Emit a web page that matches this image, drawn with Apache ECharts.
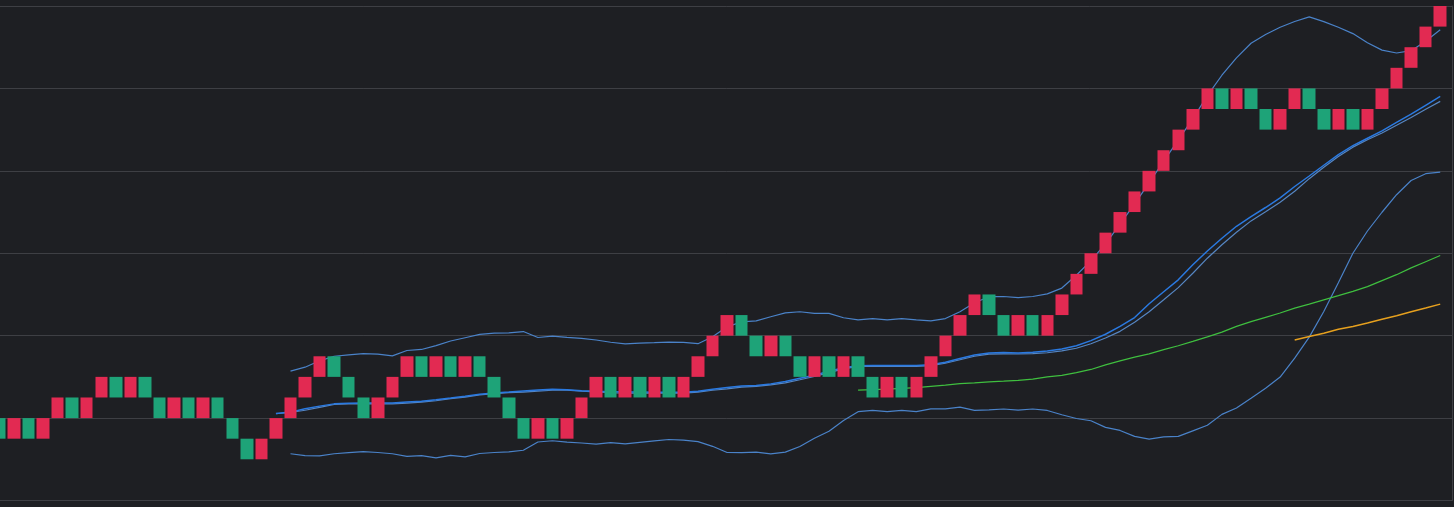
<!DOCTYPE html>
<html>
<head>
<meta charset="utf-8">
<script src="https://cdn.jsdelivr.net/npm/echarts@6/dist/echarts.min.js"></script>
<style>
html,body{margin:0;padding:0;background:#1e1f23;}
#c{width:1454px;height:507px;}
</style>
</head>
<body>
<div id="c"></div>
<script>
// Renko bricks: opening level of the first brick, then close level of every brick
const firstOpen = 0;
const brickClose = [
  -1,0,-1,0,1,0,1,2,1,2,1,0,1,0,1,0,-1,-2,-1,0,1,
  2,3,2,1,0,1,2,3,2,3,2,3,2,1,0,-1,0,-1,0,1,
  2,1,2,1,2,1,2,3,4,5,4,3,4,3,2,3,2,3,2,1,
  2,1,2,3,4,5,6,5,4,5,4,5,6,7,8,9,10,11,12,13,
  14,15,16,15,16,15,14,15,16,15,14,15,14,15,16,17,18,19,20
];

// Bollinger upper / lower bands (start at brick 20)
const bandStart = 20;
const upperBand = [
  2.28,2.47,2.78,3.00,3.07,3.13,3.10,3.02,3.28,3.33,
  3.52,3.74,3.90,4.06,4.12,4.14,4.20,3.91,3.98,3.92,
  3.87,3.79,3.68,3.60,3.64,3.66,3.69,3.67,3.61,3.95,
  4.43,4.67,4.72,4.92,5.11,5.16,5.08,5.08,4.87,4.77,
  4.83,4.77,4.83,4.77,4.72,4.83,5.16,5.60,5.89,5.90,
  5.85,5.90,6.03,6.31,6.93,7.64,8.46,9.41,10.40,11.42,
  12.47,13.49,14.53,15.65,16.64,17.48,18.19,18.62,18.97,19.25,
  19.47,19.24,18.97,18.66,18.22,17.86,17.72,17.83,18.29,18.85
];
const lowerBand = [
  -1.73,-1.82,-1.83,-1.73,-1.68,-1.63,-1.67,-1.73,-1.86,-1.82,
  -1.93,-1.81,-1.88,-1.72,-1.67,-1.64,-1.56,-1.16,-1.10,-1.17,
  -1.21,-1.26,-1.19,-1.25,-1.18,-1.11,-1.04,-1.07,-1.14,-1.37,
  -1.67,-1.68,-1.65,-1.74,-1.65,-1.38,-0.98,-0.64,-0.12,0.31,
  0.37,0.31,0.37,0.31,0.45,0.45,0.53,0.37,0.40,0.44,
  0.39,0.44,0.37,0.16,-0.02,-0.13,-0.45,-0.60,-0.89,-1.02,
  -0.91,-0.89,-0.62,-0.35,0.18,0.49,0.96,1.45,1.99,2.91,
  3.93,5.17,6.57,8.00,9.08,9.99,10.84,11.53,11.86,11.94
];

// Two middle averages (start at brick 19)
const midStart = 19;
const midA = [
  0.22,0.29,0.45,0.58,0.69,0.72,0.73,0.73,0.73,0.78,0.82,
  0.89,0.97,1.06,1.16,1.22,1.26,1.31,1.36,1.40,1.38,
  1.33,1.30,1.28,1.26,1.26,1.25,1.25,1.25,1.30,1.40,
  1.49,1.56,1.58,1.66,1.78,1.93,2.08,2.27,2.44,2.54,
  2.55,2.55,2.55,2.55,2.59,2.71,2.89,3.06,3.16,3.18,
  3.16,3.20,3.26,3.35,3.51,3.76,4.07,4.45,4.88,5.55,
  6.13,6.71,7.44,8.11,8.73,9.31,9.78,10.22,10.69,11.24,
  11.75,12.27,12.79,13.22,13.58,13.94,14.35,14.75,15.18,15.61
];
const midB = [
  0.21,0.27,0.38,0.52,0.66,0.69,0.70,0.69,0.69,0.73,0.77,
  0.84,0.94,1.02,1.13,1.19,1.24,1.26,1.31,1.35,1.36,
  1.31,1.27,1.23,1.21,1.21,1.21,1.21,1.21,1.26,1.35,
  1.42,1.50,1.54,1.61,1.71,1.86,2.02,2.21,2.39,2.51,
  2.51,2.52,2.51,2.51,2.55,2.66,2.83,3.00,3.10,3.12,
  3.11,3.13,3.17,3.26,3.39,3.61,3.89,4.21,4.65,5.16,
  5.74,6.33,7.03,7.76,8.41,9.02,9.57,10.01,10.48,11.01,
  11.62,12.17,12.70,13.15,13.51,13.84,14.21,14.59,14.99,15.37
];

// Longer averages
const greenStart = 59;
const greenLine = [
  1.36,1.38,1.41,1.44,1.48,1.54,1.60,1.67,1.71,1.76,1.79,
  1.83,1.89,2.00,2.07,2.21,2.36,2.58,2.78,2.96,3.12,
  3.32,3.51,3.72,3.94,4.17,4.45,4.68,4.89,5.10,5.34,
  5.53,5.74,5.94,6.15,6.38,6.67,6.96,7.29,7.59,7.89
];
const orangeStart = 89;
const orangeLine = [3.79,3.96,4.12,4.31,4.45,4.61,4.80,4.97,5.16,5.34,5.53];

// value-axis ticks (labels hidden in the reference)
const yMin = -4, yMax = 20, yStep = 4;

// ---- build ----
const candles = brickClose.map((c, i) => {
  const o = i === 0 ? firstOpen : brickClose[i - 1];
  return [i, o, c, Math.min(o, c), Math.max(o, c)];
});
const toPairs = (arr, start) => arr.map((v, k) => [start + k, v]);

function lineSeries(name, arr, start, color, width) {
  return {
    name, type: 'line', data: toPairs(arr, start),
    showSymbol: false, symbol: 'none', smooth: false,
    lineStyle: { color, width }, z: 1, silent: true
  };
}

const chart = echarts.init(document.getElementById('c'), null, { renderer: 'canvas' });
chart.setOption({
  backgroundColor: '#1e1f23',
  animation: false,
  grid: { left: 0, right: 1.7, top: 6, bottom: 6.5 },
  xAxis: {
    type: 'value', min: 0.04, max: 99.83,
    axisLine: { show: false }, axisTick: { show: false },
    axisLabel: { show: false }, splitLine: { show: false }
  },
  yAxis: {
    type: 'value', position: 'right', min: yMin, max: yMax, interval: yStep,
    axisLine: { show: true, lineStyle: { color: '#3e3f44', width: 1 } },
    axisTick: { show: false }, axisLabel: { show: false },
    splitLine: { show: true, lineStyle: { color: '#3e3f44', width: 1 } }
  },
  series: [
    lineSeries('upper', upperBand, bandStart, '#4a82c8', 1.2),
    lineSeries('lower', lowerBand, bandStart, '#4a82c8', 1.2),
    lineSeries('midB', midB, midStart, '#5585c2', 1.2),
    lineSeries('midA', midA, midStart, '#2a79e0', 1.5),
    lineSeries('green', greenLine, greenStart, '#3fbf3f', 1.2),
    lineSeries('orange', orangeLine, orangeStart, '#e6a01e', 1.5),
    {
      name: 'renko', type: 'candlestick', data: candles, barWidth: 13, z: 3,
      itemStyle: {
        color: '#e22a52', color0: '#1ea378',
        borderColor: '#e22a52', borderColor0: '#1ea378', borderWidth: 0
      }
    }
  ]
});
</script>
</body>
</html>
